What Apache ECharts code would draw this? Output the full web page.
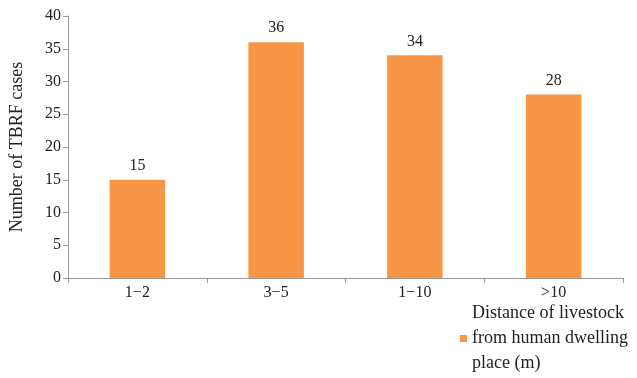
<!DOCTYPE html>
<html><head><meta charset="utf-8">
<script src="https://cdn.jsdelivr.net/npm/echarts@6/dist/echarts.min.js"></script>
<style>html,body{margin:0;padding:0;background:#fff}#c{width:637px;height:378px}</style>
</head><body><div id="c"></div>
<script>
const categories = ['1\u22122', '3\u22125', '1\u221210', '>10'];
const cases = [15, 36, 34, 28];
const yTicks = { min: 0, max: 40, interval: 5 };
const seriesName = 'Distance of livestock\nfrom human dwelling\nplace (m)';
const yTitle = 'Number of TBRF cases';

const font = '"Liberation Serif", "DejaVu Serif", serif';
const chart = echarts.init(document.getElementById('c'));
chart.setOption({
  animation: false,
  textStyle: { fontFamily: font },
  grid: { left: 68, right: 14, top: 16, bottom: 100 },
  legend: {
    data: [seriesName],
    left: 455, top: 296,
    icon: 'rect', itemWidth: 7, itemHeight: 7, itemGap: 4,
    textStyle: { fontFamily: font, fontSize: 18, color: '#222', lineHeight: 25 }
  },
  xAxis: {
    type: 'category', data: categories,
    axisLine: { lineStyle: { color: '#999' } },
    axisTick: { show: true, length: 5, lineStyle: { color: '#999' } },
    axisLabel: { fontFamily: font, fontSize: 16, color: '#222', margin: 7 }
  },
  yAxis: {
    type: 'value', min: yTicks.min, max: yTicks.max, interval: yTicks.interval,
    name: yTitle, nameLocation: 'middle', nameGap: 42, nameRotate: 90,
    nameTextStyle: { fontFamily: font, fontSize: 18, color: '#222' },
    axisLine: { show: true, lineStyle: { color: '#999' } },
    axisTick: { show: true, length: 5, lineStyle: { color: '#999' } },
    splitLine: { show: false },
    axisLabel: { fontFamily: font, fontSize: 16, color: '#222', margin: 7 }
  },
  series: [{
    name: seriesName, type: 'bar', data: cases, barWidth: '40%',
    itemStyle: { color: '#F79646' },
    label: { show: true, position: 'top', distance: 6, fontFamily: font, fontSize: 16, color: '#222' }
  }]
});
</script></body></html>
